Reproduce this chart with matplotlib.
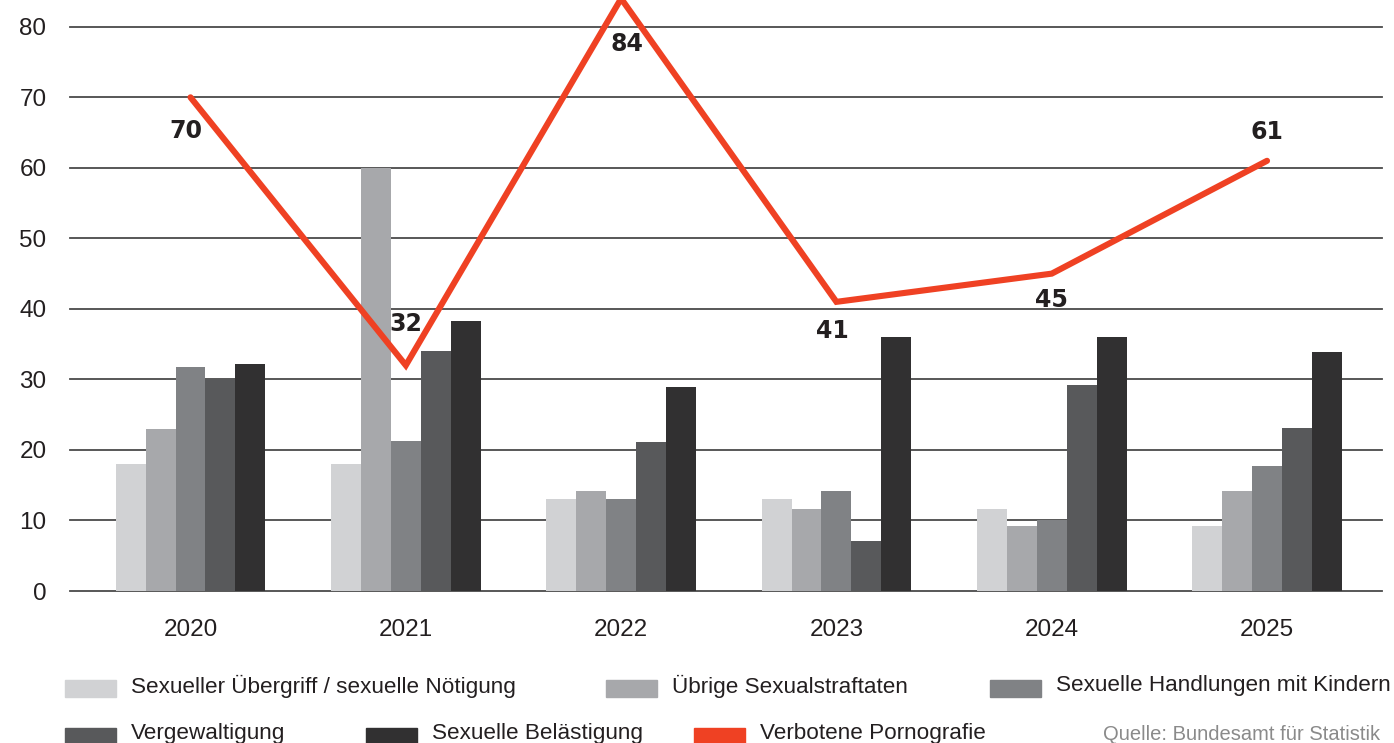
import numpy as np
import matplotlib.pyplot as plt
from matplotlib.patches import Rectangle

years = ['2020', '2021', '2022', '2023', '2024', '2025']
series_names = ['Sexueller Übergriff / sexuelle Nötigung', 'Übrige Sexualstraftaten',
                'Sexuelle Handlungen mit Kindern', 'Vergewaltigung', 'Sexuelle Belästigung']
uebergriff = [18, 18, 13, 13, 11.6, 9.2]
uebrige = [23, 60, 14.2, 11.6, 9.2, 14.2]
kinder = [31.8, 21.3, 13, 14.2, 10.1, 17.7]
vergewaltigung = [30.1, 34, 21.1, 7.1, 29.2, 23.1]
belaestigung = [32.2, 38.3, 28.9, 36, 36, 33.9]
pornografie = [70, 32, 84, 41, 45, 61]
line_name = 'Verbotene Pornografie'

colors = ['#d1d2d4', '#a7a8ab', '#808285', '#58595b', '#313031']
red = '#ef4123'
textc = '#231f20'

plt.rcParams['font.family'] = ['Liberation Sans', 'DejaVu Sans']

W, H = 1394, 743
fig = plt.figure(figsize=(W / 100, H / 100), dpi=100)
ax = fig.add_axes([70 / W, 1 - 591 / H, (1382 - 70) / W, 591 / H])

x = np.arange(len(years))
bw = 0.139
all_series = [uebergriff, uebrige, kinder, vergewaltigung, belaestigung]
for i, vals in enumerate(all_series):
    ax.bar(x + (i - 2) * bw, vals, width=bw, color=colors[i], zorder=2)

ax.plot(x, pornografie, color=red, lw=4.4, solid_capstyle='round',
        solid_joinstyle='miter', zorder=3, clip_on=False)

# label offsets (points): above or below the point
offsets = [(-3, -24), (0, 30), (4, -33), (-3, -21), (0, -19), (0, 21)]
for xi, v, off in zip(x, pornografie, offsets):
    ax.annotate(str(v), (xi, v), xytext=off, textcoords='offset points',
                ha='center', va='center', fontsize=17, fontweight='bold',
                color=textc, family=['DejaVu Sans'], zorder=4,
                annotation_clip=False)

ax.set_xlim(-0.5597, 5.534)
ax.set_ylim(0, 83.8)
ax.set_yticks(range(0, 81, 10))
ax.set_xticks(x)
ax.set_xticklabels(years)
ax.tick_params(axis='both', length=0, labelsize=17.5, colors=textc)
ax.tick_params(axis='x', pad=20)
ax.tick_params(axis='y', pad=17)
for s in ax.spines.values():
    s.set_visible(False)
ax.yaxis.grid(True, color='#4a4a4a', lw=1.3, zorder=1)
ax.set_axisbelow(True)
for gl in ax.get_ygridlines():
    gl.set_clip_on(False)

# legend drawn by hand to match the two-row layout
legend_rows = [
    [(series_names[0], colors[0], 65), (series_names[1], colors[1], 606),
     (series_names[2], colors[2], 990)],
    [(series_names[3], colors[3], 65), (series_names[4], colors[4], 366),
     (line_name, red, 694)],
]
row_y = [688, 736]
for row, yc in zip(legend_rows, row_y):
    for name, col, px in row:
        fig.patches.append(Rectangle((px / W, 1 - (yc + 8.5) / H), 51 / W, 17 / H,
                                     transform=fig.transFigure, color=col))
        fig.text((px + 66) / W, 1 - (yc - 2) / H, name, ha='left', va='center',
                 fontsize=16.2, color=textc)

fig.text(1380 / W, 1 - 735 / H, 'Quelle: Bundesamt für Statistik', ha='right',
         va='center', fontsize=14.5, color='#8a8a8a')

fig.savefig('out.png', dpi=100)
